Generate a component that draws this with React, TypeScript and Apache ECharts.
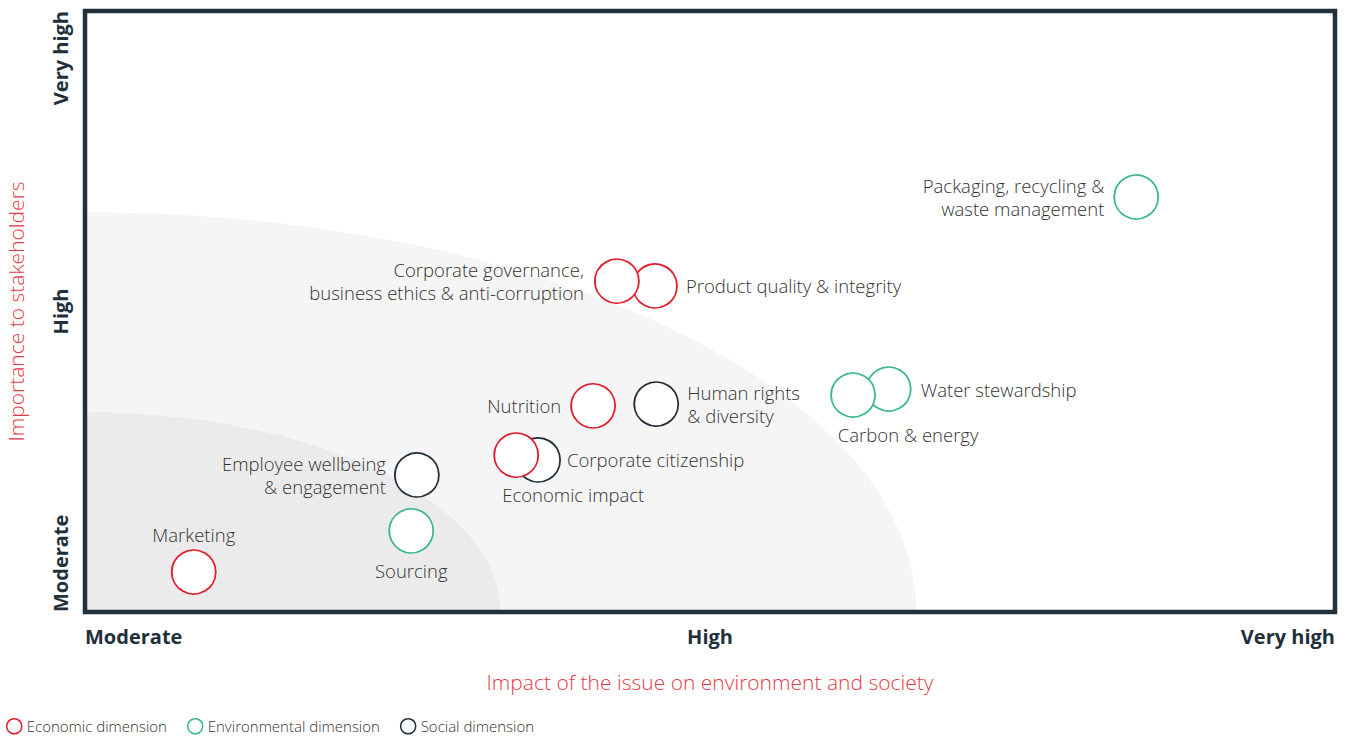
import React, { useEffect, useRef } from "react";
import * as echarts from "echarts";

const levelLabels = ["Moderate", "High", "Very high"];
const xAxisTitle = "Impact of the issue on environment and society";
const yAxisTitle = "Importance to stakeholders";

const zoneRadii = [1.33, 0.665];

const economicNames = [
  "Product quality & integrity",
  "Corporate governance,\nbusiness ethics & anti-corruption",
  "Nutrition",
  "Economic impact",
  "Marketing",
];
const economicX = [0.912, 0.851, 0.813, 0.69, 0.174];
const economicY = [1.085, 1.101, 0.686, 0.522, 0.133];

const environmentalNames = [
  "Packaging, recycling &\nwaste management",
  "Water stewardship",
  "Carbon & energy",
  "Sourcing",
];
const environmentalX = [1.682, 1.286, 1.229, 0.522];
const environmentalY = [1.381, 0.742, 0.722, 0.27];

const socialNames = [
  "Human rights\n& diversity",
  "Corporate citizenship",
  "Employee wellbeing\n& engagement",
];
const socialX = [0.914, 0.725, 0.531];
const socialY = [0.692, 0.506, 0.456];

const seriesNames = ["Economic dimension", "Environmental dimension", "Social dimension"];

const RED = "#e31c2b";
const TITLE_RED = "#e63946";
const GREEN = "#3cb68e";
const DARK = "#22303c";

const labelLayout: Record<string, any> = {
  "Product quality & integrity": { position: "right", distance: 8 },
  "Corporate governance,\nbusiness ethics & anti-corruption": { position: "left", distance: 10 },
  Nutrition: { position: "left", distance: 9 },
  "Economic impact": { position: "bottom", distance: 5, offset: [57, 0] },
  Marketing: { position: "top", distance: 3 },
  "Packaging, recycling &\nwaste management": { position: "left", distance: 9 },
  "Water stewardship": { position: "right", distance: 9 },
  "Carbon & energy": { position: "bottom", distance: 5, offset: [55, 0] },
  Sourcing: { position: "bottom", distance: 5 },
  "Human rights\n& diversity": { position: "right", distance: 8 },
  "Corporate citizenship": { position: "right", distance: 6 },
  "Employee wellbeing\n& engagement": { position: "left", distance: 8 },
};

function buildData(names: string[], xs: number[], ys: number[]) {
  return names.map((n, i) => ({
    name: n,
    value: [xs[i], ys[i]],
    label: { show: true, formatter: n, ...labelLayout[n] },
  }));
}

export default function App() {
  const ref = useRef<HTMLDivElement>(null);
  useEffect(() => {
    if (!ref.current) return;
    const chart = echarts.init(ref.current, null, { renderer: "svg" });
    const font = "Open Sans";
    const scatterBase = (name: string, color: string, data: any[]) => ({
      name,
      type: "scatter",
      symbol: "circle",
      symbolSize: 44,
      itemStyle: { color: "#ffffff", borderColor: color, borderWidth: 1.8, opacity: 1 },
      label: {
        show: true,
        color: "#333333",
        fontFamily: font,
        fontSize: 18.5,
        fontWeight: 300,
        lineHeight: 23,
      },
      emphasis: { disabled: true },
      data,
      z: 3,
    });
    chart.setOption({
      animation: false,
      textStyle: { fontFamily: font },
      grid: {
        left: 85,
        right: 11,
        top: 11,
        bottom: 124,
        show: true,
        borderColor: DARK,
        borderWidth: 4.5,
        backgroundColor: "transparent",
        outerBoundsMode: "none",
        containLabel: false,
      },
      legend: {
        data: [
          { name: seriesNames[0], icon: "circle", itemStyle: { color: "#fff", borderColor: RED, borderWidth: 1.5 } },
          { name: seriesNames[1], icon: "circle", itemStyle: { color: "#fff", borderColor: GREEN, borderWidth: 1.5 } },
          { name: seriesNames[2], icon: "circle", itemStyle: { color: "#fff", borderColor: DARK, borderWidth: 1.5 } },
        ],
        left: 6,
        top: 718,
        padding: 0,
        itemWidth: 15,
        itemHeight: 15,
        itemGap: 20,
        textStyle: { fontSize: 15, lineHeight: 16, color: "#333", fontFamily: font, fontWeight: 300 },
        selectedMode: false,
      },
      xAxis: {
        type: "value",
        min: 0,
        max: 2,
        interval: 1,
        splitLine: { show: false },
        axisLine: { show: false },
        axisTick: { show: false },
        axisLabel: {
          formatter: (v: number) => levelLabels[Math.round(v)],
          color: DARK,
          fontWeight: "bold",
          fontSize: 20,
          fontFamily: font,
          margin: 14,
          alignMinLabel: "left",
          alignMaxLabel: "right",
        },
        name: xAxisTitle,
        nameLocation: "middle",
        nameGap: 59,
        nameTextStyle: { color: TITLE_RED, fontSize: 21, fontFamily: font, fontWeight: 300 },
      },
      yAxis: {
        type: "value",
        min: 0,
        max: 2,
        interval: 1,
        splitLine: { show: false },
        axisLine: { show: false },
        axisTick: { show: false },
        axisLabel: {
          formatter: (v: number) => levelLabels[Math.round(v)],
          color: DARK,
          fontWeight: "bold",
          fontSize: 20,
          fontFamily: font,
          margin: 15,
          rotate: 90,
          alignMinLabel: "left",
          alignMaxLabel: "right",
        },
        name: yAxisTitle,
        nameLocation: "middle",
        nameRotate: 90,
        nameGap: 59,
        nameTextStyle: { color: TITLE_RED, fontSize: 21, fontFamily: font, fontWeight: 300 },
      },
      series: [
        {
          type: "custom",
          name: "zones",
          clip: true,
          z: -1,
          silent: true,
          data: zoneRadii.map((r) => [r, 0]),
          renderItem: (params: any, api: any) => {
            const r = api.value(0);
            const o = api.coord([0, 0]);
            const ex = api.coord([r, 0]);
            const ey = api.coord([0, r]);
            return {
              type: "ellipse",
              shape: { cx: o[0], cy: o[1], rx: ex[0] - o[0], ry: o[1] - ey[1] },
              style: { fill: params.dataIndex === 0 ? "#f5f5f5" : "#ebebeb" },
            };
          },
        },
        scatterBase(seriesNames[2], DARK, buildData(socialNames, socialX, socialY)),
        scatterBase(seriesNames[1], GREEN, buildData(environmentalNames, environmentalX, environmentalY)),
        scatterBase(seriesNames[0], RED, buildData(economicNames, economicX, economicY)),
      ],
    });
    return () => chart.dispose();
  }, []);
  return (
    <div
      ref={ref}
      style={{ position: "fixed", left: 0, top: 0, width: 1346, height: 736, background: "#fff" }}
    />
  );
}
